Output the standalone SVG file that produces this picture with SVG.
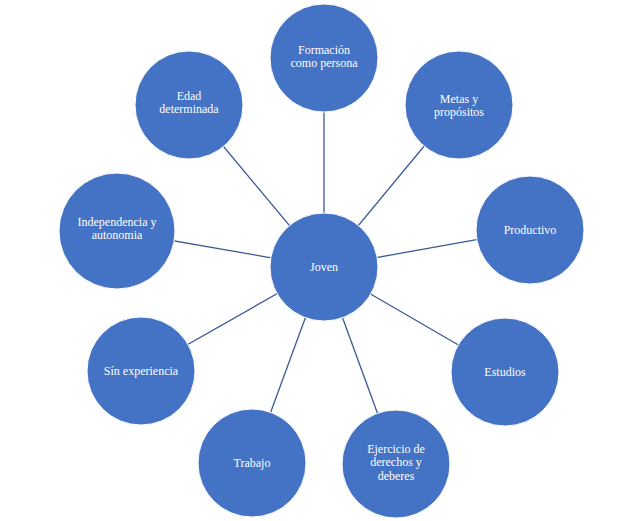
<svg xmlns="http://www.w3.org/2000/svg" width="643" height="521" viewBox="0 0 643 521">
<style>
.n{fill:#4472C4;stroke:#ffffff;stroke-width:1}
.t{font-family:"Liberation Serif","Times New Roman",serif;font-size:12px;fill:#ffffff;text-anchor:middle}
.c{stroke:#3A5A96;stroke-width:1.3;fill:none}
</style>
<rect width="643" height="521" fill="#ffffff"/>
<g id="connectors">
<line class="c" x1="324" y1="267" x2="324" y2="58"/>
<line class="c" x1="324" y1="267" x2="459" y2="104"/>
<line class="c" x1="324" y1="267" x2="530" y2="230"/>
<line class="c" x1="324" y1="267" x2="505" y2="372"/>
<line class="c" x1="324" y1="267" x2="396" y2="464"/>
<line class="c" x1="324" y1="267" x2="252" y2="463"/>
<line class="c" x1="324" y1="267" x2="141" y2="371"/>
<line class="c" x1="324" y1="267" x2="117" y2="231"/>
<line class="c" x1="324" y1="267" x2="189" y2="105"/>
</g>
<g id="joven"><circle class="n" cx="324" cy="267" r="54"/><text class="t" x="324" y="271">Joven</text></g>
<g id="formacion"><circle class="n" cx="324" cy="58" r="54"/><text class="t" x="324" y="54">Formación</text><text class="t" x="324" y="67">como persona</text></g>
<g id="metas"><circle class="n" cx="459" cy="105" r="54"/><text class="t" x="459" y="103">Metas y</text><text class="t" x="459" y="116">propósitos</text></g>
<g id="productivo"><circle class="n" cx="530" cy="230" r="54"/><text class="t" x="530" y="234">Productivo</text></g>
<g id="estudios"><circle class="n" cx="505" cy="372" r="54"/><text class="t" x="505" y="376">Estudios</text></g>
<g id="ejercicio"><circle class="n" cx="396" cy="464" r="54"/><text class="t" x="396" y="453">Ejercicio  de</text><text class="t" x="396" y="466">derechos  y</text><text class="t" x="396" y="480">deberes</text></g>
<g id="trabajo"><circle class="n" cx="252" cy="463" r="54"/><text class="t" x="252" y="467">Trabajo</text></g>
<g id="sin"><circle class="n" cx="141" cy="371" r="54"/><text class="t" x="141" y="375">Sín  experiencia</text></g>
<g id="independencia"><circle class="n" cx="117" cy="231" r="58"/><text class="t" x="117" y="226">Independencia y</text><text class="t" x="117" y="239">autonomia</text></g>
<g id="edad"><circle class="n" cx="189" cy="105" r="54"/><text class="t" x="189" y="100">Edad</text><text class="t" x="189" y="113">determinada</text></g>
</svg>
